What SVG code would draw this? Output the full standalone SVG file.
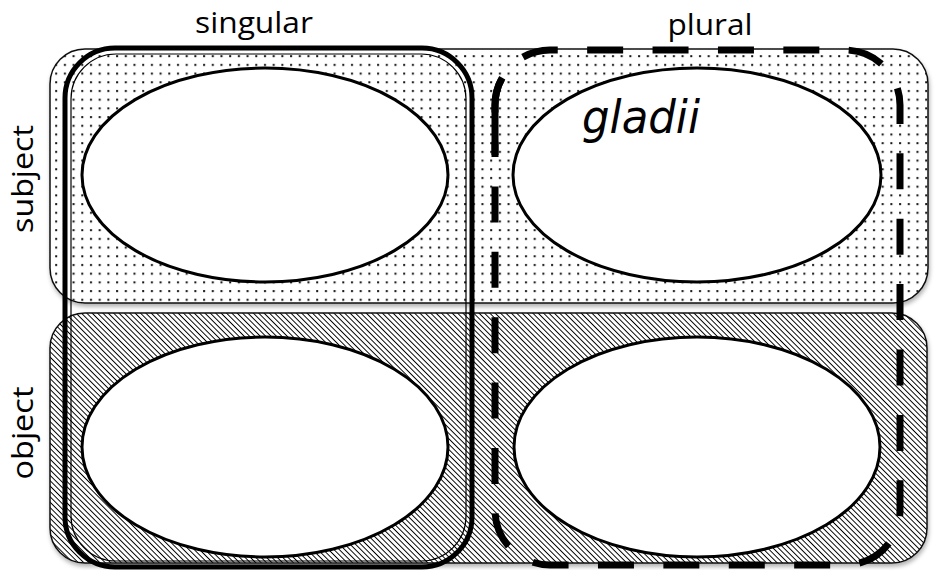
<svg xmlns="http://www.w3.org/2000/svg" width="936" height="570" viewBox="0 0 936 570">
<style>
.lbl{font-family:"Open Sans","Liberation Sans",sans-serif;font-size:29px;fill:#000}
.box{stroke:#111;stroke-width:1.5}
.ell{fill:#fff;stroke:#000;stroke-width:3}
.dash{fill:none;stroke:#000;stroke-width:7}
</style>
<defs>
<filter id="sh" x="-5%" y="-5%" width="110%" height="115%">
<feDropShadow dx="1" dy="3" stdDeviation="2" flood-color="#000" flood-opacity="0.3"/>
</filter>
<pattern id="dots" patternUnits="userSpaceOnUse" x="0" y="0" width="8.7" height="8.7">
<rect width="8.7" height="8.7" fill="#fff"/>
<rect x="3" y="3" width="2" height="2" fill="#111"/>
</pattern>
<pattern id="hatch" patternUnits="userSpaceOnUse" width="3.8" height="3.8" patternTransform="rotate(45)">
<rect width="3.8" height="3.8" fill="#fff"/>
<rect x="0" y="0" width="3.8" height="0.95" fill="#000"/>
</pattern>
</defs>
<g id="row-subject">
<rect class="box" x="50" y="49" width="878" height="254" rx="35" fill="url(#dots)" filter="url(#sh)"/>
</g>
<g id="row-object">
<rect class="box" x="50" y="313" width="877" height="250" rx="35" fill="url(#hatch)" filter="url(#sh)"/>
</g>
<g id="cell-sg-subj"><ellipse class="ell" cx="265" cy="175" rx="183" ry="107"/></g>
<g id="cell-pl-subj"><ellipse class="ell" cx="697" cy="175" rx="184" ry="107"/>
<text x="582" y="133" font-family="DejaVu Sans, sans-serif" font-style="italic" font-size="46" fill="#000" textLength="118" lengthAdjust="spacingAndGlyphs">gladii</text></g>
<g id="cell-sg-obj"><ellipse class="ell" cx="265" cy="447" rx="183" ry="110"/></g>
<g id="cell-pl-obj"><ellipse class="ell" cx="697" cy="447" rx="183" ry="110"/></g>
<g id="col-singular">
<rect x="65" y="48" width="407" height="519" rx="50" fill="none" stroke="#000" stroke-width="5"/>
<rect x="71" y="54" width="395" height="507" rx="45" fill="none" stroke="#000" stroke-width="1.2"/>
</g>
<g id="col-plural">
<path class="dash" d="M495,155 V105 A55,55 0 0 1 550,50 H845 A55,55 0 0 1 900,105 V510 A55,55 0 0 1 845,565 H550 A55,55 0 0 1 495,510 V155" stroke-dasharray="36 29.4" stroke-dashoffset="22.8"/>
<path class="dash" d="M495,155 V105 A55,55 0 0 1 550,50" stroke-dasharray="77 2000"/>
</g>
<g id="labels">
<text class="lbl" x="254" y="33" text-anchor="middle" textLength="118" lengthAdjust="spacingAndGlyphs">singular</text>
<text class="lbl" x="710" y="35" text-anchor="middle" textLength="85" lengthAdjust="spacingAndGlyphs">plural</text>
<text class="lbl" transform="translate(33,179) rotate(-90)" text-anchor="middle" textLength="108" lengthAdjust="spacingAndGlyphs">subject</text>
<text class="lbl" transform="translate(33,433) rotate(-90)" text-anchor="middle" textLength="93" lengthAdjust="spacingAndGlyphs">object</text>
</g>
<g id="connectors"></g>
</svg>
